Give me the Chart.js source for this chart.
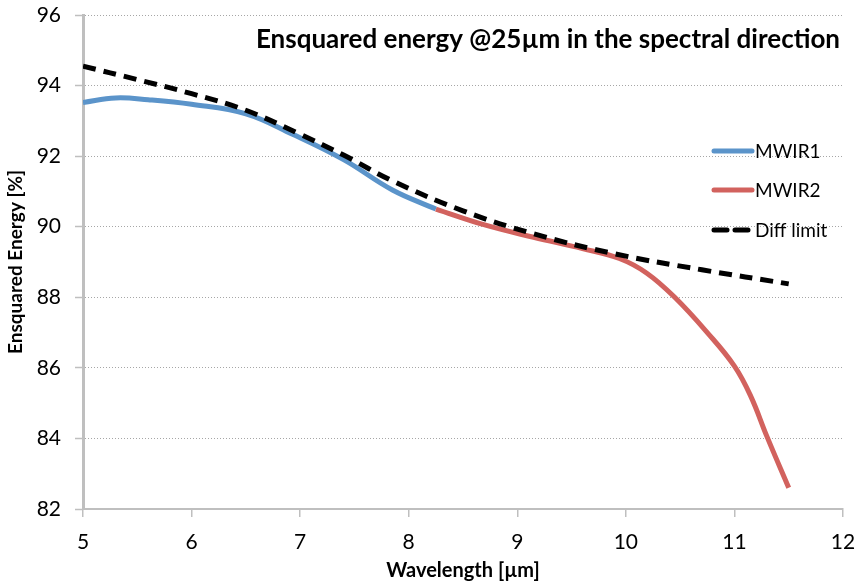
<!DOCTYPE html>
<html>
<head>
<meta charset="utf-8">
<script src="https://cdn.jsdelivr.net/npm/chart.js@4"></script>
<style>
  body { margin: 0; background: #fff; }
  #wrap { position: relative; width: 856px; height: 587px; }
</style>
</head>
<body>
<div id="wrap"><canvas id="chart" width="856" height="587"></canvas></div>
<script>
// values
const mwir1X = [5.0, 5.3, 5.6, 6.0, 6.5, 6.93, 7.4, 7.85, 8.25];
const mwir1Y = [93.52, 93.65, 93.6, 93.47, 93.2, 92.62, 91.9, 91.04, 90.5];

const mwir2X = [8.25, 8.7, 9.15, 9.6, 9.94, 10.19, 10.45, 10.75, 11.0, 11.15, 11.3, 11.5];
const mwir2Y = [90.5, 90.05, 89.7, 89.38, 89.1, 88.69, 88.0, 87.0, 86.05, 85.2, 84.05, 82.6];

const diffX = [5.0, 5.5, 6.0, 6.5, 7.0, 7.4, 7.85, 8.5, 9.15, 9.9, 10.7, 11.5];
const diffY = [94.55, 94.17, 93.77, 93.3, 92.62, 92.03, 91.3, 90.45, 89.8, 89.23, 88.78, 88.38];

const xTicks = [5, 6, 7, 8, 9, 10, 11, 12];
const yTicks = [82, 84, 86, 88, 90, 92, 94, 96];

const chartTitle = 'Ensquared energy @25\u00b5m in the spectral direction';
const xTitle = 'Wavelength [\u00b5m]';
const yTitle = 'Ensquared Energy [%]';

const pts = (xs, ys) => xs.map((x, i) => ({ x: x, y: ys[i] }));

const FONT = 'Lato, "Open Sans", sans-serif';

// title + legend drawn inside the plot area, like the original
const insideBits = {
  id: 'insideBits',
  afterDraw(chart) {
    const { ctx, chartArea } = chart;
    ctx.save();
    ctx.fillStyle = '#000';
    ctx.font = 'bold 26px ' + FONT;
    ctx.textAlign = 'right';
    ctx.textBaseline = 'middle';
    ctx.fillText(chartTitle, chartArea.right - 3, 40);

    const rows = [151, 190, 230];
    ctx.font = '19px ' + FONT;
    ctx.textAlign = 'left';
    chart.data.datasets.forEach((ds, i) => {
      const y = rows[i];
      ctx.strokeStyle = ds.borderColor;
      ctx.lineWidth = ds.borderWidth;
      ctx.lineCap = 'round';
      ctx.setLineDash(ds.borderDash || []);
      ctx.beginPath();
      ctx.moveTo(714, y);
      ctx.lineTo(752, y);
      ctx.stroke();
      ctx.setLineDash([]);
      ctx.fillStyle = '#000';
      ctx.fillText(ds.label, 755, y + 1);
    });
    ctx.restore();
  }
};

new Chart(document.getElementById('chart'), {
  type: 'scatter',
  data: {
    datasets: [
      {
        label: 'MWIR1',
        data: pts(mwir1X, mwir1Y),
        borderColor: '#5b94ca',
        borderWidth: 5,
        showLine: true,
        pointRadius: 0,
        tension: 0.4,
        order: 2
      },
      {
        label: 'MWIR2',
        data: pts(mwir2X, mwir2Y),
        borderColor: '#d2625e',
        borderWidth: 5,
        showLine: true,
        pointRadius: 0,
        tension: 0.4,
        order: 2
      },
      {
        label: 'Diff limit',
        data: pts(diffX, diffY),
        borderColor: '#000',
        borderWidth: 5,
        borderDash: [13, 8],
        showLine: true,
        pointRadius: 0,
        tension: 0.4,
        order: 1
      }
    ]
  },
  options: {
    responsive: false,
    animation: false,
    layout: { padding: { top: 15, right: 13, left: 0, bottom: 0 } },
    plugins: {
      legend: { display: false },
      tooltip: { enabled: false },
      title: { display: false }
    },
    scales: {
      x: {
        type: 'linear',
        min: 5,
        max: 12,
        afterBuildTicks: (s) => { s.ticks = xTicks.map(v => ({ value: v })); },
        afterFit: (s) => { s.height = 78; s.paddingRight = 0; s.paddingLeft = 0; },
        ticks: { color: '#000', font: { family: FONT, size: 21 }, padding: 13 },
        grid: { drawOnChartArea: false, drawTicks: true, tickLength: 8, color: '#bfbfbf', lineWidth: 1.5 },
        border: { color: '#bfbfbf', width: 2 },
        title: { display: true, text: xTitle, color: '#000', font: { family: FONT, size: 20, weight: 'bold' }, padding: { top: 0 } }
      },
      y: {
        min: 82,
        max: 96,
        afterBuildTicks: (s) => { s.ticks = yTicks.map(v => ({ value: v })); },
        afterFit: (s) => { s.width = 83; s.paddingTop = 0; s.paddingBottom = 0; },
        ticks: { color: '#000', font: { family: FONT, size: 21 }, padding: 14 },
        grid: { color: '#a6a6a6', lineWidth: 1, tickLength: 8, tickColor: '#bfbfbf', tickWidth: 1.5, tickBorderDash: [] },
        border: { color: '#bfbfbf', width: 3, dash: [1, 2] },
        title: { display: true, text: yTitle, color: '#000', font: { family: FONT, size: 19, weight: 'bold' }, padding: { bottom: 0 } }
      }
    }
  },
  plugins: [insideBits]
});
</script>
</body>
</html>
